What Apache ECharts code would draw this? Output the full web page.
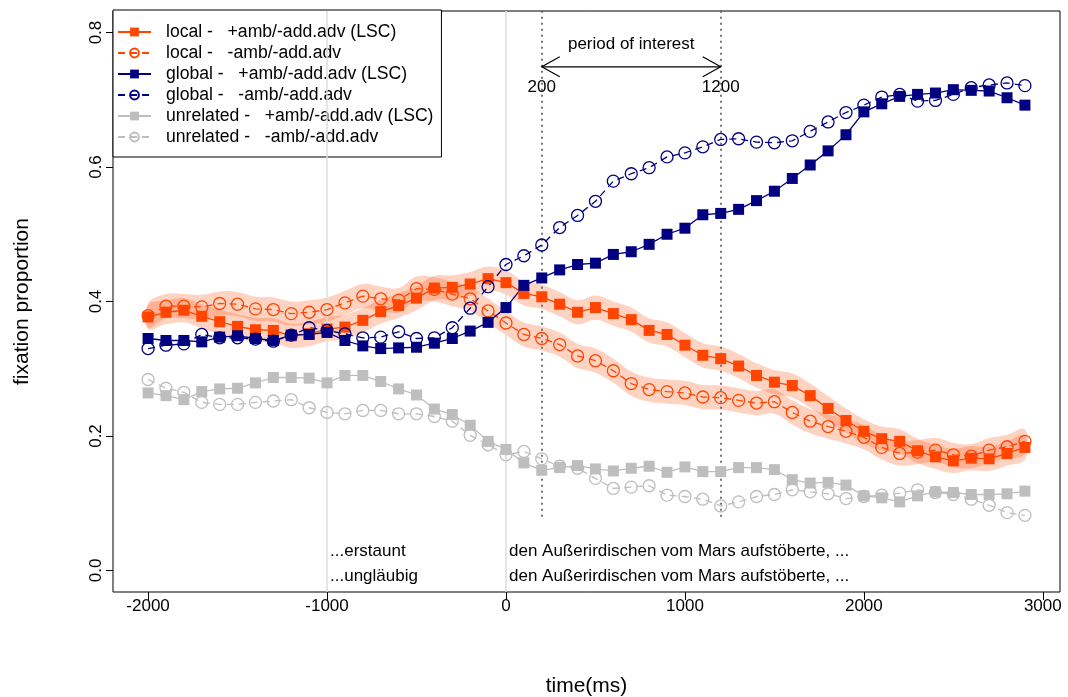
<!DOCTYPE html>
<html>
<head>
<meta charset="utf-8">
<script src="https://cdn.jsdelivr.net/npm/echarts@6/dist/echarts.min.js"></script>
<style>
  html, body { margin: 0; padding: 0; background: #fff; }
  #chart { width: 1068px; height: 697px; }
</style>
</head>
<body>
<div id="chart"></div>
<script>
// Time bins (ms relative to onset), one every 100 ms
const times = [];
for (let t = -2000; t <= 2900; t += 100) times.push(t);

// Fixation proportions per condition
const localLSC = [0.377,0.384,0.387,0.378,0.370,0.363,0.358,0.357,0.349,0.352,
                  0.359,0.362,0.372,0.385,0.394,0.405,0.420,0.421,0.426,0.434,
                  0.428,0.412,0.407,0.396,0.384,0.391,0.382,0.373,0.357,0.351,
                  0.335,0.320,0.315,0.304,0.290,0.280,0.275,0.260,0.241,0.223,
                  0.207,0.196,0.192,0.178,0.169,0.163,0.167,0.166,0.174,0.183];
const localAmb = [0.379,0.393,0.393,0.392,0.397,0.396,0.389,0.388,0.382,0.384,
                  0.388,0.398,0.408,0.404,0.402,0.419,0.418,0.411,0.404,0.386,
                  0.368,0.351,0.345,0.336,0.319,0.312,0.297,0.278,0.269,0.266,
                  0.264,0.258,0.257,0.253,0.249,0.251,0.235,0.222,0.214,0.207,
                  0.198,0.183,0.174,0.176,0.179,0.172,0.170,0.179,0.184,0.192];
const globalLSC = [0.345,0.342,0.342,0.340,0.347,0.349,0.345,0.342,0.350,0.351,
                   0.354,0.342,0.334,0.330,0.331,0.332,0.338,0.345,0.356,0.369,
                   0.391,0.424,0.435,0.447,0.455,0.457,0.470,0.474,0.485,0.500,
                   0.509,0.529,0.531,0.537,0.550,0.564,0.583,0.603,0.624,0.648,
                   0.682,0.694,0.705,0.708,0.710,0.715,0.714,0.713,0.703,0.692];
const globalAmb = [0.330,0.335,0.337,0.351,0.346,0.346,0.344,0.341,0.350,0.361,
                   0.357,0.352,0.346,0.347,0.355,0.345,0.346,0.361,0.390,0.422,
                   0.455,0.468,0.484,0.510,0.528,0.549,0.579,0.590,0.599,0.615,
                   0.621,0.630,0.641,0.642,0.637,0.636,0.639,0.653,0.667,0.681,
                   0.692,0.704,0.708,0.698,0.699,0.708,0.718,0.722,0.725,0.721];
const unrelLSC = [0.264,0.260,0.254,0.266,0.270,0.271,0.279,0.287,0.287,0.286,
                  0.279,0.290,0.290,0.281,0.270,0.261,0.240,0.232,0.216,0.192,
                  0.180,0.160,0.149,0.153,0.156,0.151,0.148,0.152,0.155,0.146,
                  0.154,0.147,0.147,0.153,0.153,0.150,0.135,0.130,0.131,0.127,
                  0.111,0.108,0.102,0.111,0.117,0.116,0.113,0.113,0.114,0.118];
const unrelAmb = [0.284,0.271,0.265,0.250,0.247,0.247,0.250,0.252,0.254,0.242,
                  0.235,0.233,0.238,0.238,0.233,0.233,0.229,0.222,0.201,0.187,
                  0.172,0.177,0.166,0.155,0.152,0.137,0.122,0.124,0.126,0.112,
                  0.110,0.106,0.096,0.102,0.110,0.113,0.120,0.117,0.114,0.107,
                  0.110,0.112,0.115,0.120,0.116,0.113,0.106,0.097,0.086,0.082];

// Half width of the confidence ribbon drawn around the local conditions
const ribbonHalf = 0.018;

// Axis ticks
const xTicks = [-2000, -1000, 0, 1000, 2000, 3000];
const yTicks = [0, 0.2, 0.4, 0.6, 0.8];

// Reference lines and the analysis window
const onsetLines = [-1000, 0];
const windowStart = 200, windowEnd = 1200;
const windowLineFloor = 0.08;
const arrowLevel = 0.749;

// Sentence fragments aligned to their onsets
const sentenceNotes = [
  { t: -1000, v: 0.028, text: '...erstaunt' },
  { t: -1000, v: -0.009, text: '...ungläubig' },
  { t: 0, v: 0.028, text: 'den Außerirdischen vom Mars aufstöberte, ...' },
  { t: 0, v: -0.009, text: 'den Außerirdischen vom Mars aufstöberte, ...' }
];
const windowNotes = [
  { t: 700, v: 0.782, text: 'period of interest' },
  { t: 200, v: 0.719, text: '200' },
  { t: 1200, v: 0.719, text: '1200' }
];

const names = [
  'local -   +amb/-add.adv (LSC)',
  'local -   -amb/-add.adv',
  'global -   +amb/-add.adv (LSC)',
  'global -   -amb/-add.adv',
  'unrelated -   +amb/-add.adv (LSC)',
  'unrelated -   -amb/-add.adv'
];

const ORANGE = '#FF4500', NAVY = '#000080', GREY = '#BEBEBE';
const FONT = "'Liberation Sans', Arial, sans-serif";

const pair = arr => arr.map((v, i) => [times[i], v]);

function solidSeries(name, values, color) {
  return {
    name, type: 'line', data: pair(values), z: 5,
    symbol: 'rect', symbolSize: 11,
    lineStyle: { color, width: 1.3 },
    itemStyle: { color },
    emphasis: { disabled: true }
  };
}
function openSeries(name, values, color) {
  return {
    name, type: 'line', data: pair(values), z: 5,
    symbol: 'circle', symbolSize: 12,
    lineStyle: { color, width: 1.3, type: [7, 5] },
    itemStyle: { color: 'rgba(0,0,0,0)', borderColor: color, borderWidth: 1.3 },
    emphasis: { disabled: true }
  };
}
// Smoothed confidence ribbon, drawn once as a closed polygon through the axis scales
function ribbon(values) {
  return {
    type: 'custom', silent: true, z: 1, clip: true,
    data: pair(values),
    renderItem: (params, api) => {
      if (params.dataIndex !== 0) return null;
      const upper = values.map((v, i) => api.coord([times[i], v + ribbonHalf]));
      const lower = values.map((v, i) => api.coord([times[i], v - ribbonHalf])).reverse();
      return {
        type: 'polygon',
        shape: { points: upper.concat(lower), smooth: 0.4 },
        style: { fill: 'rgba(255,69,0,0.24)', stroke: null }
      };
    }
  };
}

const chart = echarts.init(document.getElementById('chart'), null, { renderer: 'canvas' });

const axisFont = { fontSize: 17, color: '#000', fontFamily: FONT };

chart.setOption({
  animation: false,
  backgroundColor: '#fff',
  textStyle: { fontFamily: FONT },
  grid: { left: 113, right: 8, top: 11, bottom: 105, show: true, outerBoundsMode: 'none',
          containLabel: false,
          borderColor: '#000', borderWidth: 1, backgroundColor: 'transparent' },
  legend: {
    data: names, orient: 'vertical', left: 113, top: 10,
    itemWidth: 33, itemHeight: 11, itemGap: 3,
    padding: [13, 8, 11, 4],
    backgroundColor: '#fff', borderColor: '#000', borderWidth: 1,
    selectedMode: false,
    textStyle: { fontSize: 17.6, color: '#000', lineHeight: 18, fontFamily: FONT, padding: [0, 0, 0, 10] }
  },
  xAxis: {
    type: 'value', min: -2196, max: 3096,
    name: 'time(ms)', nameLocation: 'middle', nameGap: 84,
    nameTextStyle: { fontSize: 21, color: '#000', fontFamily: FONT },
    axisLine: { show: false, onZero: false },
    splitLine: { show: false },
    axisTick: { show: true, length: 8, customValues: xTicks, lineStyle: { color: '#000' } },
    axisLabel: Object.assign({ customValues: xTicks, margin: 6, formatter: v => String(v) }, axisFont)
  },
  yAxis: {
    type: 'value', min: -0.032, max: 0.832,
    name: 'fixation proportion', nameLocation: 'middle', nameGap: 80, nameRotate: 90,
    nameTextStyle: { fontSize: 21, color: '#000', fontFamily: FONT },
    axisLine: { show: false, onZero: false },
    splitLine: { show: false },
    axisTick: { show: true, length: 7, customValues: yTicks, lineStyle: { color: '#000' } },
    axisLabel: Object.assign({ customValues: yTicks, rotate: 90, margin: 8,
                 formatter: v => v.toFixed(1) }, axisFont)
  },
  series: [
    ribbon(localLSC),
    ribbon(localAmb),
    {
      // onset lines and the dotted analysis window borders
      type: 'line', data: [], silent: true,
      markLine: {
        silent: true, symbol: 'none', label: { show: false },
        data: [
          ...onsetLines.map(t => ({ xAxis: t, lineStyle: { color: '#DCDCDC', width: 1.5, type: 'solid' } })),
          ...[windowStart, windowEnd].map(t => [
            { coord: [t, windowLineFloor], lineStyle: { color: '#555', width: 1.6, type: [2, 4] } },
            { coord: [t, 0.832] }
          ])
        ]
      }
    },
    solidSeries(names[0], localLSC, ORANGE),
    openSeries(names[1], localAmb, ORANGE),
    solidSeries(names[2], globalLSC, NAVY),
    openSeries(names[3], globalAmb, NAVY),
    solidSeries(names[4], unrelLSC, GREY),
    openSeries(names[5], unrelAmb, GREY),
    {
      // double-headed arrow spanning the analysis window
      type: 'custom', silent: true, z: 6,
      data: [[windowStart, windowEnd, arrowLevel]],
      renderItem: (params, api) => {
        const a = api.coord([api.value(0), api.value(2)]);
        const b = api.coord([api.value(1), api.value(2)]);
        const hx = 18, hy = 10;
        const st = { stroke: '#000', lineWidth: 1.2 };
        return { type: 'group', children: [
          { type: 'line', shape: { x1: a[0], y1: a[1], x2: b[0], y2: b[1] }, style: st },
          { type: 'polyline', shape: { points: [[a[0] + hx, a[1] - hy], a, [a[0] + hx, a[1] + hy]] }, style: Object.assign({ fill: null }, st) },
          { type: 'polyline', shape: { points: [[b[0] - hx, b[1] - hy], b, [b[0] - hx, b[1] + hy]] }, style: Object.assign({ fill: null }, st) }
        ]};
      }
    },
    {
      // centred labels of the analysis window
      type: 'custom', silent: true, z: 6,
      data: windowNotes.map(d => [d.t, d.v]),
      renderItem: (params, api) => {
        const p = api.coord([api.value(0), api.value(1)]);
        return { type: 'text', x: p[0], y: p[1],
          style: { text: windowNotes[params.dataIndex].text, fill: '#000', font: '17px ' + FONT,
                   align: 'center', verticalAlign: 'middle' } };
      }
    },
    {
      // sentence fragments, left aligned at their onset
      type: 'custom', silent: true, z: 6,
      data: sentenceNotes.map(d => [d.t, d.v]),
      renderItem: (params, api) => {
        const p = api.coord([api.value(0), api.value(1)]);
        return { type: 'text', x: p[0] + 3, y: p[1],
          style: { text: sentenceNotes[params.dataIndex].text, fill: '#000', font: '17px ' + FONT,
                   align: 'left', verticalAlign: 'middle' } };
      }
    }
  ]
});
</script>
</body>
</html>
